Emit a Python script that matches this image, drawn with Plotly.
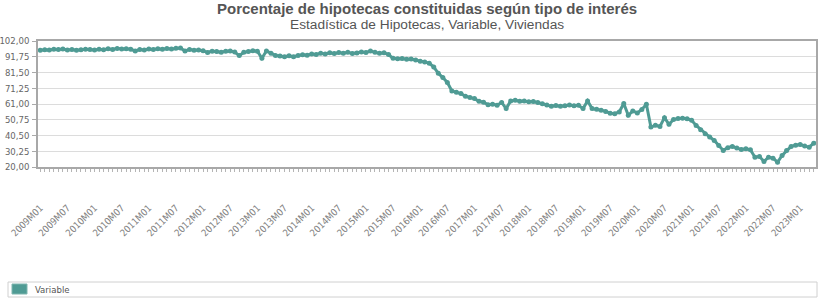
import plotly.graph_objects as go

# ---- data ----
years = list(range(2009, 2024))
months = [f"{y}M{m:02d}" for y in years for m in range(1, 13)][:172]  # 2009M01 .. 2023M04

variable = [
    # 2009
    96.0, 96.3, 96.1, 96.6, 96.4, 96.8, 96.2, 96.5, 96.0, 96.3, 96.7, 96.4,
    # 2010
    96.2, 96.6, 96.3, 96.9, 96.5, 97.2, 96.8, 97.0, 96.6, 95.5, 96.4, 96.2,
    # 2011
    96.8, 96.5, 96.9, 96.6, 97.1, 96.8, 97.3, 97.4, 95.5, 96.5, 96.0, 96.2,
    # 2012
    95.6, 94.5, 95.4, 95.2, 94.7, 95.3, 95.5, 94.8, 92.5, 94.6, 95.2, 95.7,
    # 2013
    95.4, 90.8, 95.5, 94.0, 92.6, 92.3, 91.7, 92.4, 91.8, 92.6, 93.0, 92.8,
    # 2014
    93.5, 93.2, 94.0, 93.6, 94.3, 93.8, 94.5, 94.0, 94.6, 93.9, 94.2, 94.8,
    # 2015
    94.5, 95.5, 94.6, 94.0, 94.3, 93.2, 90.7, 90.4, 90.6, 90.1, 90.3, 89.6,
    # 2016
    88.8, 88.3, 87.6, 85.0, 81.0, 78.2, 75.0, 69.5, 68.6, 67.8, 66.0, 65.2,
    # 2017
    64.5, 62.8, 62.2, 60.5, 60.9, 60.2, 62.0, 58.0, 63.0, 63.4, 62.8, 63.0,
    # 2018
    62.4, 62.6, 62.0, 61.2, 60.3, 59.5, 60.0, 59.6, 59.8, 60.4, 59.9, 60.2,
    # 2019
    58.0, 63.0, 58.0, 57.6, 57.0, 56.2, 55.0, 54.7, 55.8, 61.3, 53.6, 56.5,
    # 2020
    55.2, 57.5, 60.8, 46.0, 47.1, 46.4, 52.1, 47.8, 50.9, 51.5, 51.8, 51.4,
    # 2021
    50.4, 47.0, 44.3, 41.7, 39.5, 37.3, 34.0, 30.8, 32.6, 33.4, 32.3, 31.4,
    # 2022
    31.8, 31.2, 26.4, 26.8, 23.6, 26.4, 25.7, 23.1, 27.5, 30.8, 33.4, 34.2,
    # 2023
    34.7, 33.6, 32.9, 35.5,
]

y_ticks = [20.00, 30.25, 40.50, 50.75, 61.00, 71.25, 81.50, 91.75, 102.00]
y_tick_text = [f"{v:.2f}".replace(".", ",") for v in y_ticks]
x_tick_text = [m if m.endswith(("M01", "M07")) else "" for m in months]

series_name = "Variable"
title = "Porcentaje de hipotecas constituidas según tipo de interés"
subtitle = "Estadística de Hipotecas, Variable, Viviendas"

# ---- figure ----
COLOR = "#4f9b94"
L, R, T, B = 38, 9, 41, 133
W, H = 825, 300
pw, ph = W - L - R, H - T - B

def px_x(px):
    return (px - L) / pw

def px_y(py):
    return (H - B - py) / ph

fig = go.Figure()
fig.add_trace(go.Scatter(
    x=months, y=variable, mode="lines+markers", name=series_name,
    line=dict(color=COLOR, width=3),
    marker=dict(color=COLOR, size=5),
    showlegend=False,
))

fig.update_layout(
    width=W, height=H,
    margin=dict(l=L, r=R, t=T, b=B, pad=0, autoexpand=False),
    paper_bgcolor="white", plot_bgcolor="white",
    font=dict(family="Liberation Sans, Arial, sans-serif", color="#666"),
)

fig.update_xaxes(
    type="category", automargin=False,
    range=[-0.5, len(months) - 0.5],
    tickmode="array", tickvals=months, ticktext=x_tick_text,
    tickangle=-45, ticklabelstandoff=27,
    tickfont=dict(size=9.5, color="#808080", family="DejaVu Sans Condensed, Liberation Sans, sans-serif"),
    ticks="outside", ticklen=3, tickcolor="#b5b5b5", tickwidth=1,
    showgrid=False, showline=True, linecolor="#a8a8a8", linewidth=1.5,
    mirror=True, zeroline=False,
)
fig.update_yaxes(
    automargin=False,
    range=[20, 102],
    tickmode="array", tickvals=y_ticks, ticktext=y_tick_text,
    tickfont=dict(size=9.5, color="#666", family="DejaVu Sans Condensed, Liberation Sans, sans-serif"),
    ticks="outside", ticklen=4, tickcolor="#aaa", ticklabelstandoff=1,
    showgrid=True, gridcolor="#dcdcdc", gridwidth=1,
    showline=True, linecolor="#a8a8a8", linewidth=1.5, mirror=True,
    zeroline=False,
)

annotations = [
    dict(text=f"<b>{title}</b>", x=0.5, y=px_y(8), xref="paper", yref="paper",
         xanchor="center", yanchor="middle", showarrow=False,
         font=dict(size=15, color="#555", family="Liberation Sans, Arial, sans-serif")),
    dict(text=subtitle, x=0.5, y=px_y(24), xref="paper", yref="paper",
         xanchor="center", yanchor="middle", showarrow=False,
         font=dict(size=13.7, color="#555", family="Liberation Sans, Arial, sans-serif")),
    dict(text=series_name, x=px_x(33), y=px_y(289), xref="paper", yref="paper",
         xanchor="left", yanchor="middle", showarrow=False,
         font=dict(size=9.5, color="#555", family="DejaVu Sans Condensed, sans-serif")),
]
shapes = [
    dict(type="rect", xref="paper", yref="paper",
         x0=px_x(8), x1=px_x(817), y0=px_y(282), y1=px_y(297),
         line=dict(color="#d0d0d0", width=1), fillcolor="white", layer="below"),
    dict(type="rect", xref="paper", yref="paper",
         x0=px_x(12), x1=px_x(27), y0=px_y(284), y1=px_y(294),
         line=dict(color="#7fb5ae", width=1), fillcolor=COLOR),
]
fig.update_layout(annotations=annotations, shapes=shapes)

fig.write_html("out.html")
